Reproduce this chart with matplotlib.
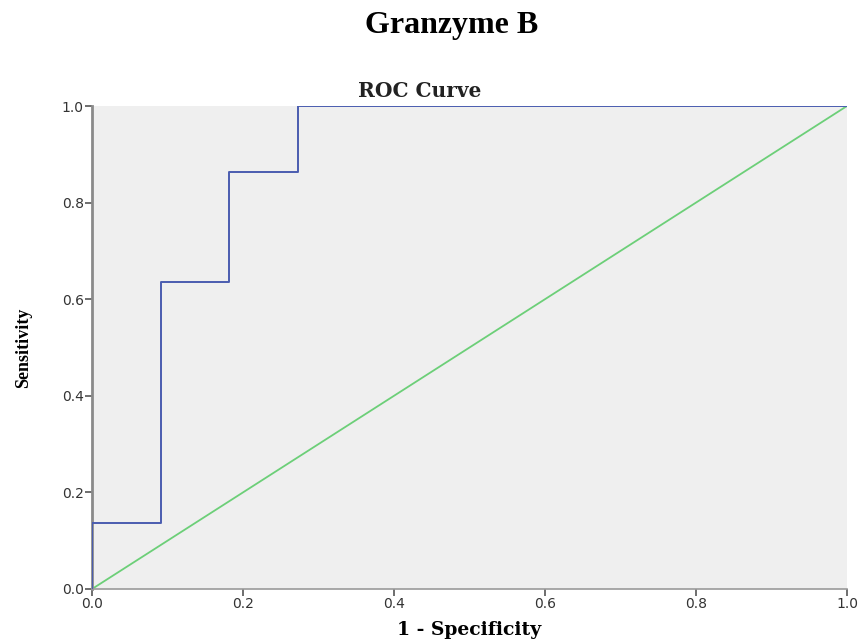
import matplotlib
matplotlib.use("Agg")
import matplotlib.pyplot as plt

fpr = [0.0, 0.0, 0.0909, 0.0909, 0.1818, 0.1818, 0.2727, 0.2727, 1.0]
tpr = [0.0, 0.136, 0.136, 0.636, 0.636, 0.864, 0.864, 1.0, 1.0]
ref_x = [0.0, 1.0]
ref_y = [0.0, 1.0]
ticks = [0.0, 0.2, 0.4, 0.6, 0.8, 1.0]
tick_labels = ["0.0", "0.2", "0.4", "0.6", "0.8", "1.0"]

fig = plt.figure(figsize=(8.61, 6.43), dpi=100)
ax = fig.add_axes([92/861, 1-589/643, (847-92)/861, (589-106)/643])
ax.set_facecolor("#efefef")
ax.plot(ref_x, ref_y, color="#6ccf78", lw=1.3, zorder=2)
ax.plot(fpr, tpr, color="#4a5cb0", lw=1.4, zorder=3)
ax.set_xlim(0, 1)
ax.set_ylim(0, 1)
ax.set_xticks(ticks)
ax.set_xticklabels(tick_labels)
ax.set_yticks(ticks)
ax.set_yticklabels(tick_labels)
for s in ["top", "right"]:
    ax.spines[s].set_visible(False)
ax.spines["left"].set_color("#8a8a8a")
ax.spines["left"].set_linewidth(2.0)
ax.spines["bottom"].set_color("#9a9a9a")
ax.spines["bottom"].set_linewidth(1.2)
ax.tick_params(axis="both", direction="out", length=5, width=1.2, color="#555555",
               labelsize=10, labelcolor="#333333", pad=1)
for lab in ax.get_xticklabels() + ax.get_yticklabels():
    lab.set_family("DejaVu Sans")

fig.text(452/861, 1-25/643, "Granzyme B", ha="center", va="center",
         fontsize=23, fontweight="bold", family="Liberation Serif")
fig.text(420/861, 1-91/643, "ROC Curve", ha="center", va="center",
         fontsize=14.5, fontweight="bold", family="DejaVu Serif", color="#222222")
ax.set_xlabel("1 - Specificity", fontsize=13.5, fontweight="bold", family="DejaVu Serif",
              labelpad=7)
ax.set_ylabel("Sensitivity", fontsize=13, fontweight="bold", family="Liberation Serif",
              labelpad=21)
fig.savefig("out.png", dpi=100)
